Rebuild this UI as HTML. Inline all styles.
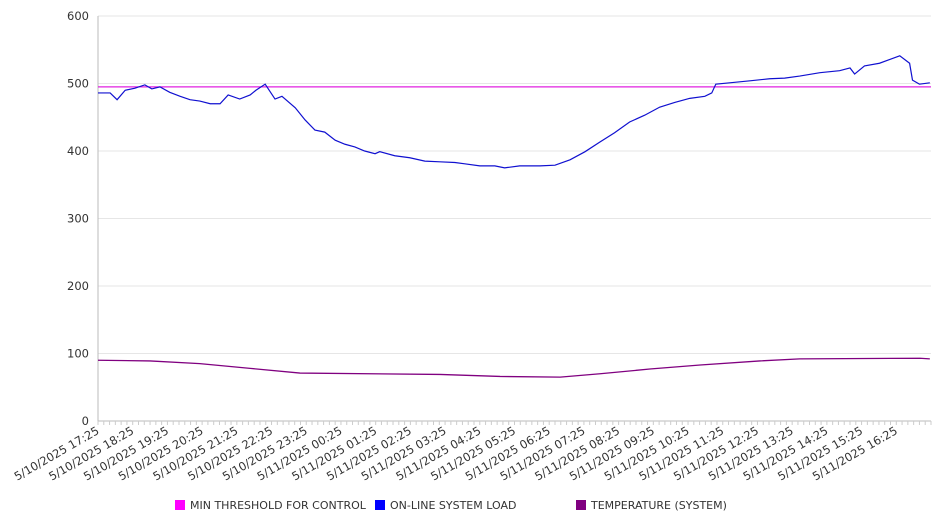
<!DOCTYPE html>
<html><head><meta charset="utf-8"><style>
html,body{margin:0;padding:0;background:#fff;}
svg text{font-family:"DejaVu Sans","Liberation Sans",sans-serif;fill:#333;}
</style></head><body>
<svg id="chart" width="946" height="526"></svg>
<script>
const yTicks=[0,100,200,300,400,500,600];
const xLabels=["5/10/2025 17:25","5/10/2025 18:25","5/10/2025 19:25","5/10/2025 20:25","5/10/2025 21:25","5/10/2025 22:25","5/10/2025 23:25","5/11/2025 00:25","5/11/2025 01:25","5/11/2025 02:25","5/11/2025 03:25","5/11/2025 04:25","5/11/2025 05:25","5/11/2025 06:25","5/11/2025 07:25","5/11/2025 08:25","5/11/2025 09:25","5/11/2025 10:25","5/11/2025 11:25","5/11/2025 12:25","5/11/2025 13:25","5/11/2025 14:25","5/11/2025 15:25","5/11/2025 16:25"];
const thresholdValue=495;
const loadMinutes=[0,21,33,47,64,81,93,107,124,142,159,176,194,211,225,245,263,273,289,306,318,341,358,375,392,410,427,444,461,479,487,513,539,565,591,617,634,660,686,703,729,764,790,816,842,867,893,919,945,971,997,1023,1049,1061,1068,1092,1127,1161,1187,1213,1248,1282,1300,1308,1325,1351,1386,1403,1408,1420,1438];
const loadValues=[486,486,476,490,493,498,492,495,487,481,476,474,470,470,483,477,483,490,499,477,481,464,446,431,428,416,410,406,400,396,399,393,390,385,384,383,381,378,378,375,378,378,379,387,399,413,427,443,453,465,472,478,481,486,499,501,504,507,508,511,516,519,523,514,526,530,541,530,505,499,501];
const tempMinutes=[0,90,176,263,349,591,695,799,868,954,1041,1144,1213,1421,1438];
const tempValues=[90,89,85,78,71,69,66,65,70,77,83,89,92,93,92];
const X0=98,X1=931,Y0=421,Y1=16;
const xs=m=>X0+(X1-X0)*m/1440;
const ys=v=>Y0-(Y0-Y1)*v/600;
const svg=document.getElementById('chart');
const NS='http://www.w3.org/2000/svg';
function mk(t,a,p){const e=document.createElementNS(NS,t);for(const k in a)e.setAttribute(k,a[k]);(p||svg).appendChild(e);return e;}
yTicks.forEach(v=>{
  const g=mk('line',{x1:X0,x2:X1,y1:ys(v),y2:ys(v),stroke:v===0?'#bbb':'#e6e6e6','stroke-width':1});
  
  
  const t=mk('text',{x:89,y:ys(v)+4,'text-anchor':'end','font-size':11.5});
  t.textContent=v;
  
  
});
const ax=mk('line',{x1:X0,x2:X0,y1:Y1,y2:Y0,stroke:'#bbb'});


for(let m=0;m<=1440;m+=10){const tk=mk('line',{x1:xs(m),x2:xs(m),y1:Y0,y2:Y0+4,stroke:'#ccc'});

}
xLabels.forEach((s,i)=>{
  const x=xs(i*60)+2,y=Y0+12;
  const t=mk('text',{x:x,y:y,'text-anchor':'end','font-size':11.5,transform:`rotate(-30 ${x} ${y})`});
  t.textContent=s;
  
  
});
const th=mk('line',{x1:X0,x2:X1,y1:ys(thresholdValue),y2:ys(thresholdValue),stroke:'#e020e0','stroke-width':1.3});


const tp=mk('polyline',{points:tempMinutes.map((m,i)=>xs(m)+','+ys(tempValues[i])).join(' '),fill:'none',stroke:'#800080','stroke-width':1.3});


const lp=mk('polyline',{points:loadMinutes.map((m,i)=>xs(m)+','+ys(loadValues[i])).join(' '),fill:'none',stroke:'#1010d0','stroke-width':1.2});


const leg=[['#ff00ff','MIN THRESHOLD FOR CONTROL',175],['#0000ff','ON-LINE SYSTEM LOAD',375],['#800080','TEMPERATURE (SYSTEM)',576]];
leg.forEach(l=>{
  const g=mk('g',{});
  
  
  mk('rect',{x:l[2],y:500,width:10,height:10,fill:l[0]},g);
  const t=mk('text',{x:l[2]+15,y:509,'font-size':11},g);
  t.textContent=l[1];
});
</script>
</body></html>
